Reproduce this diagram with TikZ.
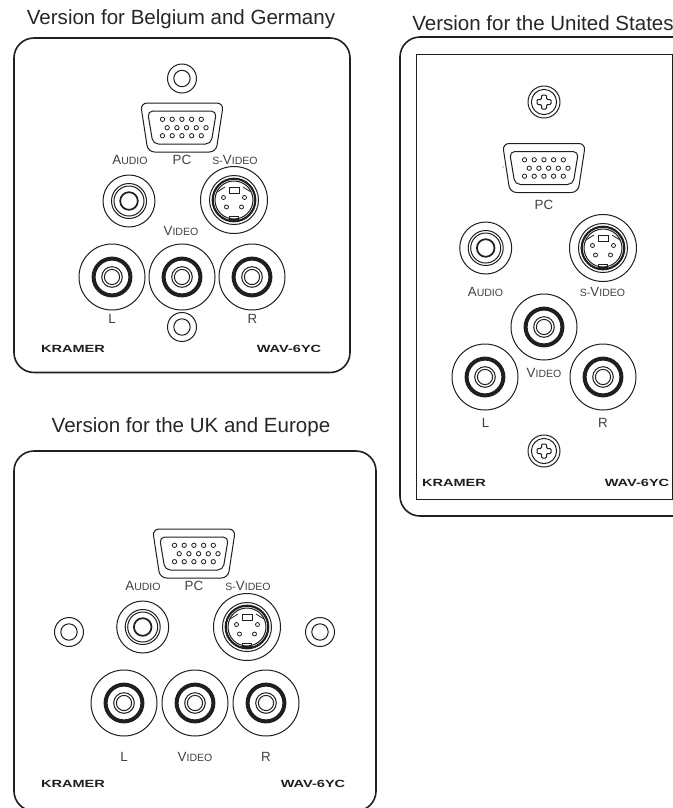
\documentclass[tikz,border=0pt]{standalone}
\usepackage{fontspec}
\setmainfont{Liberation Sans}
\newcommand{\caplabel}[2]{{\fontsize{10pt}{12pt}\selectfont #1}{\fontsize{7.9pt}{12pt}\selectfont #2}}
\newcommand{\brandtext}[1]{\scalebox{1.4}[1]{\fontsize{7.8pt}{9pt}\selectfont\bfseries #1}}
\tikzset{
  ink/.style={draw=black!88,line width=0.75pt},
  panel/.style={draw=black!88,line width=1.2pt,rounded corners=15pt},
  title/.style={inner sep=0pt,text=black!85,font=\fontsize{15.4pt}{18pt}\selectfont},
  lab/.style={inner sep=0pt,text=black!75,font=\fontsize{10pt}{12pt}\selectfont},
  brand/.style={inner sep=0pt,text=black!88},
  plainscrew/.pic={
    \draw[ink] (0,0) circle (14.5);
    \draw[ink] (0,0) circle (8.2);
  },
  crossscrew/.pic={
    \draw[ink] (0,0) circle (16);
    \draw[ink] (0,0) circle (12.6);
    \draw[ink,rounded corners=0.8pt] (-2.5,-7)--(2.5,-7)--(2.5,-2.5)--(7,-2.5)--(7,2.5)--(2.5,2.5)--(2.5,7)--(-2.5,7)--(-2.5,2.5)--(-7,2.5)--(-7,-2.5)--(-2.5,-2.5)--cycle;
  },
  vgaconn/.pic={
    \draw[ink,rounded corners=5pt] (-41.5,-24.5)--(41.5,-24.5)--(34,24.5)--(-34,24.5)--cycle;
    \draw[ink,rounded corners=4pt] (-34.5,-16.5)--(34.5,-16.5)--(29,16.5)--(-29,16.5)--cycle;
    \foreach \k in {0,...,4}{
      \draw[ink,line width=0.6pt] (-19.5+\k*9.7,-8.2) circle (2.2);
      \draw[ink,line width=0.6pt] (-14.8+\k*9.7,0.2) circle (2.2);
      \draw[ink,line width=0.6pt] (-19.5+\k*9.7,8.2) circle (2.2);
    }
  },
  audioconn/.pic={
    \draw[ink] (0,0) circle (26);
    \draw[ink] (0,0) circle (17.5);
    \draw[ink] (0,0) circle (15);
    \draw[ink,line width=1.3pt] (0,0) circle (8.8);
  },
  svideoconn/.pic={
    \draw[ink] (0,0) circle (33.5);
    \draw[ink] (0,0) circle (24.5);
    \draw[ink,line width=1.6pt] (0,0) circle (21.3);
    \draw[ink] (0,0) circle (19);
    \draw[ink,line width=0.6pt] (-5,-13) rectangle (5,-6.5);
    \draw[ink,line width=0.6pt] (-4.5,16.5) rectangle (4.5,19);
    \draw[ink,line width=0.6pt] (-17,-8)--(-9,-13);
    \draw[ink,line width=0.6pt] (17,-8)--(9,-13);
    \foreach \p/\q in {-10.5/-2.5,10.5/-2.5,-7.5/7,7.5/7}{
      \draw[ink,line width=0.6pt] (\p,\q) circle (2);
    }
  },
  rcaconn/.pic={
    \draw[ink] (0,0) circle (33);
    \draw[draw=black!88,line width=3pt] (0,0) circle (18.4);
    \draw[ink] (0,0) circle (10.3);
    \draw[ink] (0,0) circle (7.6);
  }
}
\begin{document}
\begin{tikzpicture}[x=0.75pt,y=-0.75pt]
\useasboundingbox (0,0) rectangle (673,808);
\clip (0,0) rectangle (673,808);
% titles
\node[title] (t1) at (181,19) {Version for Belgium and Germany};
\node[title] (t2) at (543,23) {Version for the United States};
\node[title] (t3) at (191,427) {Version for the UK and Europe};
% panel 1
\draw[panel] (14,38) rectangle (350,372.5);
\pic (a1) at (182,78.5) {plainscrew};
\pic (a2) at (182,127.5) {vgaconn};
\pic (a3) at (129,201) {audioconn};
\pic (a4) at (234,200) {svideoconn};
\pic (a5) at (112,277) {rcaconn};
\pic (a6) at (182,277) {rcaconn};
\pic (a7) at (252,277) {rcaconn};
\pic (a8) at (182,327) {plainscrew};
\node[lab] (al1) at (130,160) {\caplabel{A}{UDIO}};
\node[lab] (al2) at (182,160) {PC};
\node[lab] (al3) at (235,160) {\caplabel{}{S-}\caplabel{V}{IDEO}};
\node[lab] (al4) at (181,231) {\caplabel{V}{IDEO}};
\node[lab] (al5) at (112,319) {L};
\node[lab] (al6) at (252.5,318.5) {R};
\node[brand] (al7) at (73,349) {\brandtext{KRAMER}};
\node[brand] (al8) at (289,348.5) {\brandtext{WAV-6YC}};
% panel 2
\draw[panel] (400,37) rectangle (700,516);
\draw[ink] (416,54) rectangle (672,499);
\pic (b1) at (544,102) {crossscrew};
\pic (b2) at (544,168) {vgaconn};
\fill[black!70] (503,167) circle (0.6);
\pic (b3) at (485.7,248) {audioconn};
\pic (b4) at (603,248) {svideoconn};
\pic (b5) at (544,327) {rcaconn};
\pic (b6) at (485,377) {rcaconn};
\pic (b7) at (603,377) {rcaconn};
\pic (b8) at (544,451) {crossscrew};
\node[lab] (bl1) at (544,205) {PC};
\node[lab] (bl2) at (485.5,292) {\caplabel{A}{UDIO}};
\node[lab] (bl3) at (602.5,292) {\caplabel{}{S-}\caplabel{V}{IDEO}};
\node[lab] (bl4) at (544,373) {\caplabel{V}{IDEO}};
\node[lab] (bl5) at (485.5,423) {L};
\node[lab] (bl6) at (603,423) {R};
\node[brand] (bl7) at (454,483) {\brandtext{KRAMER}};
\node[brand] (bl8) at (637,483) {\brandtext{WAV-6YC}};
% panel 3
\draw[panel] (14,451) rectangle (376,811);
\pic (c1) at (69,632) {plainscrew};
\pic (c2) at (194,553.5) {vgaconn};
\pic (c3) at (142.7,627) {audioconn};
\pic (c4) at (247,627) {svideoconn};
\pic (c5) at (320,632) {plainscrew};
\pic (c6) at (124,703) {rcaconn};
\pic (c7) at (195,703) {rcaconn};
\pic (c8) at (266,703) {rcaconn};
\node[lab] (cl1) at (143,586) {\caplabel{A}{UDIO}};
\node[lab] (cl2) at (194,586) {PC};
\node[lab] (cl3) at (248,586) {\caplabel{}{S-}\caplabel{V}{IDEO}};
\node[lab] (cl4) at (124,757) {L};
\node[lab] (cl5) at (195,757) {\caplabel{V}{IDEO}};
\node[lab] (cl6) at (266,757) {R};
\node[brand] (cl7) at (73,784) {\brandtext{KRAMER}};
\node[brand] (cl8) at (313,784) {\brandtext{WAV-6YC}};
\end{tikzpicture}
\end{document}
